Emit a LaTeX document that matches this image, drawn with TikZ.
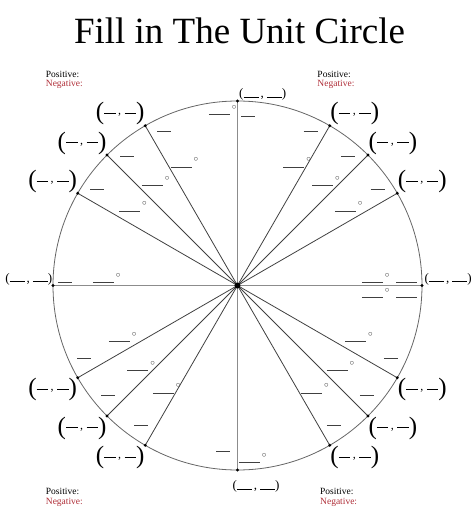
\documentclass[tikz,border=0pt]{standalone}
\usepackage{fontspec}
\setmainfont{Liberation Serif}
\usepackage{xcolor}
\usetikzlibrary{positioning}

\definecolor{negred}{RGB}{175,45,55}

% blanks to fill in
\newcommand{\bigpair}{{\fontsize{25}{25}\selectfont(}\rule[6pt]{11.5pt}{0.7pt}\hspace{2.5pt}\raisebox{5pt}{\fontsize{12}{12}\selectfont,}\hspace{3.5pt}\rule[6pt]{11.5pt}{0.7pt}{\fontsize{25}{25}\selectfont)}}
\newcommand{\axispair}{{\fontsize{13}{13}\selectfont(\rule{15pt}{0.6pt}\hspace{2pt},\hspace{3pt}\rule{15pt}{0.6pt})}}
\newcommand{\longblank}{\rule{21pt}{0.6pt}}
\newcommand{\shortblank}{\rule{14pt}{0.6pt}}
\newcommand{\degmark}{\rlap{\hspace{2pt}\raisebox{5.5pt}{\color{black!70}\small$\circ$}}}

\begin{document}
\begin{tikzpicture}[
    x=1pt, y=1pt,
    every node/.style={inner sep=0pt},
    spoke/.style={draw=black!75, line width=0.8pt},
    axis/.style={draw=black!45, line width=1.1pt},
    blank/.style={anchor=base, text=black!75},
    pairlbl/.style={inner sep=0.5pt},
    signlbl/.style={anchor=base west, font=\fontsize{9.5}{9.5}\selectfont}
]
\useasboundingbox (-237.5,-234.5) rectangle (236.5,285.5);

% Title
\node (title) [anchor=base, font=\fontsize{37}{37}\selectfont] at (2,242.2) {Fill in The Unit Circle};

% Circle and axes
\coordinate (O) at (0,0);
\draw[black!60, line width=0.8pt] (O) circle (184.5pt);
\foreach \a in {0,30,45,60,90,120,135,150,180,210,225,240,270,300,315,330}
    \coordinate (p\a) at (\a:184.5);
\draw[axis] (p180) -- (p0);
\draw[axis] (p270) -- (p90);

% Spokes, coordinate pairs and angle blanks
\foreach \a/\anc in {30/south west,45/south west,60/south west,120/south east,135/south east,150/south east,210/north east,225/north east,240/north east,300/north west,315/north west,330/north west}{
    \pgfmathsetmacro\b{\a+4.5*sign(cos(\a))}
    \draw[spoke] (O) -- (p\a);
    \node[pairlbl, anchor=\anc] (c\a) at (p\a) {\bigpair};
    \node[blank] (r\a) at (\b:170) {\shortblank};
    \node[blank] (d\a) at (\b:131) {\longblank\degmark};
}

% Points
\foreach \a in {0,30,45,60,90,120,135,150,180,210,225,240,270,300,315,330}
    \fill (p\a) circle (1.6pt);
\fill (O) circle (3pt);

% Axis pairs
\node[pairlbl, anchor=south west] (c0) at ([xshift=2pt]p0) {\axispair};
\node[pairlbl, anchor=south west] (c90) at ([xshift=1pt]p90) {\axispair};
\node[pairlbl, anchor=south east] (c180) at (p180) {\axispair};
\node[pairlbl, anchor=north] (c270) at ([xshift=18.5pt, yshift=-10pt]p270) {\axispair};

% Axis blanks
\node[blank] (d0) at (135,2.5) {\longblank\degmark};
\node[blank] (r0) at (169,2.5) {\longblank};
\node[blank] (d360) at (135,-12.5) {\longblank\degmark};
\node[blank] (r360) at (169,-12.5) {\longblank};
\node[blank] (d90) at (-18,170.5) {\longblank\degmark};
\node[blank] (r90) at (11,169) {\shortblank};
\node[blank] (d180) at (-134,2.8) {\longblank\degmark};
\node[blank] (r180) at (-172.5,2.8) {\shortblank};
\node[blank] (d270) at (12,-177) {\longblank\degmark};
\node[blank] (r270) at (-14,-166) {\shortblank};

% Signs
\node[signlbl] (posTL) at (-191.8,208.4) {Positive:};
\node[signlbl, text=negred] (negTL) at ([yshift=-9.3pt]posTL.base west) {Negative:};
\node[signlbl] (posTR) at (79.8,208.4) {Positive:};
\node[signlbl, text=negred] (negTR) at ([yshift=-9.3pt]posTR.base west) {Negative:};
\node[signlbl] (posBL) at (-191.8,-209.3) {Positive:};
\node[signlbl, text=negred] (negBL) at ([yshift=-9.3pt]posBL.base west) {Negative:};
\node[signlbl] (posBR) at (82.5,-209.3) {Positive:};
\node[signlbl, text=negred] (negBR) at ([yshift=-9.3pt]posBR.base west) {Negative:};

\end{tikzpicture}
\end{document}
